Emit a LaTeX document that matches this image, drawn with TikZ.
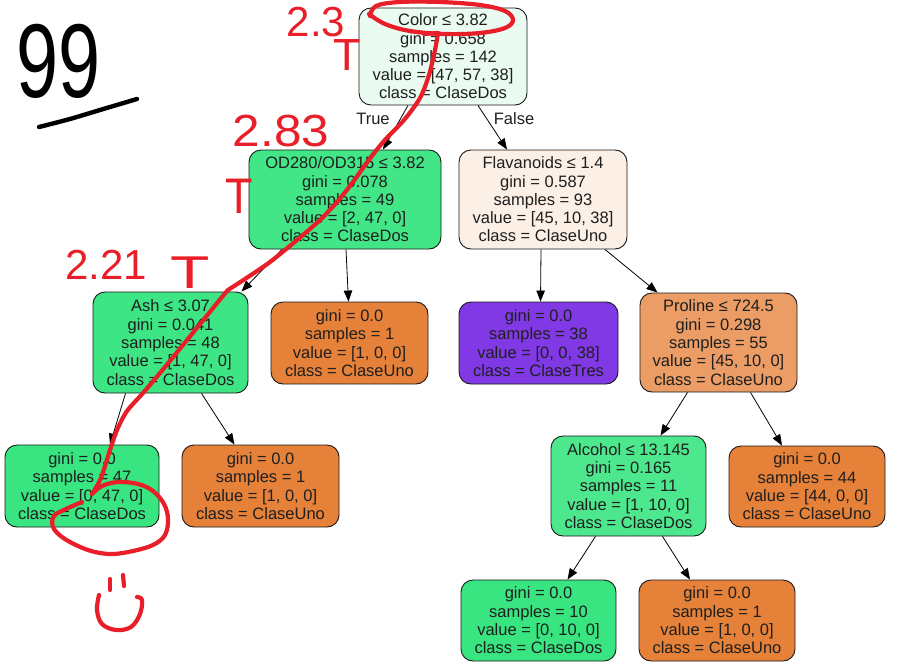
\documentclass[tikz,border=0pt]{standalone}
\usepackage{fontspec}
\setmainfont{Liberation Sans}
\usetikzlibrary{arrows.meta,calc}

% class colours of the fitted tree (purity-weighted)
\definecolor{cRoot}{RGB}{234,252,242}
\definecolor{cOd}{RGB}{66,230,134}
\definecolor{cFlav}{RGB}{252,239,230}
\definecolor{cAsh}{RGB}{61,229,132}
\definecolor{cPro}{RGB}{235,157,101}
\definecolor{cAlc}{RGB}{77,232,142}
\definecolor{cDos}{RGB}{57,229,129}
\definecolor{cUno}{RGB}{229,129,57}
\definecolor{cTres}{RGB}{129,57,229}
\definecolor{annored}{RGB}{232,30,40}

\begin{document}
\begin{tikzpicture}[x=1pt,y=-1pt,
  treenode/.style={draw=black!90, line width=0.9pt, rounded corners=12pt,
    align=center, inner sep=0pt, text=black!88,
    font=\fontsize{16.5}{18.3}\selectfont},
  edge/.style={draw=black, line width=0.8pt,
    -{Triangle[length=11pt,width=8.5pt]}},
  edgelabel/.style={inner sep=0pt, text=black!88, font=\fontsize{16.5}{18.3}\selectfont},
  pen/.style={draw=annored, line width=4.2pt, line cap=round, line join=round},
  blackpen/.style={draw=black, line width=4.4pt, line cap=round, line join=round},
  hand/.style={text=annored, inner sep=0pt}
]
\useasboundingbox (0,0) rectangle (912,669);
\fill[white] (0,0) rectangle (912,669);

% ---- tree nodes ----
\node[treenode, fill=cRoot, minimum width=168pt, minimum height=97pt] (root) at (443,56.5)
  {Color ≤ 3.82\\gini = 0.658\\samples = 142\\value = [47, 57, 38]\\class = ClaseDos};
\node[treenode, fill=cOd, minimum width=192pt, minimum height=99pt] (od) at (345,199.5)
  {OD280/OD315 ≤ 3.82\\gini = 0.078\\samples = 49\\value = [2, 47, 0]\\class = ClaseDos};
\node[treenode, fill=cFlav, minimum width=168pt, minimum height=99pt] (flav) at (543,199.5)
  {Flavanoids ≤ 1.4\\gini = 0.587\\samples = 93\\value = [45, 10, 38]\\class = ClaseUno};
\node[treenode, fill=cAsh, minimum width=155pt, minimum height=101pt] (ash) at (170.5,342.5)
  {Ash ≤ 3.07\\gini = 0.041\\samples = 48\\value = [1, 47, 0]\\class = ClaseDos};
\node[treenode, fill=cUno, minimum width=157pt, minimum height=82pt] (odleaf) at (349.5,343)
  {gini = 0.0\\samples = 1\\value = [1, 0, 0]\\class = ClaseUno};
\node[treenode, fill=cTres, minimum width=159pt, minimum height=82pt] (tres) at (538.5,343)
  {gini = 0.0\\samples = 38\\value = [0, 0, 38]\\class = ClaseTres};
\node[treenode, fill=cPro, minimum width=157pt, minimum height=99pt] (pro) at (718.5,342.5)
  {Proline ≤ 724.5\\gini = 0.298\\samples = 55\\value = [45, 10, 0]\\class = ClaseUno};
\node[treenode, fill=cDos, minimum width=154pt, minimum height=82pt] (ashl) at (82,486)
  {gini = 0.0\\samples = 47\\value = [0, 47, 0]\\class = ClaseDos};
\node[treenode, fill=cUno, minimum width=157pt, minimum height=82pt] (ashr) at (260.5,486)
  {gini = 0.0\\samples = 1\\value = [1, 0, 0]\\class = ClaseUno};
\node[treenode, fill=cAlc, minimum width=155pt, minimum height=100pt] (alc) at (628.5,486)
  {Alcohol ≤ 13.145\\gini = 0.165\\samples = 11\\value = [1, 10, 0]\\class = ClaseDos};
\node[treenode, fill=cUno, minimum width=156pt, minimum height=81pt] (pror) at (807,486.5)
  {gini = 0.0\\samples = 44\\value = [44, 0, 0]\\class = ClaseUno};
\node[treenode, fill=cDos, minimum width=155pt, minimum height=81pt] (alcl) at (538.5,620.5)
  {gini = 0.0\\samples = 10\\value = [0, 10, 0]\\class = ClaseDos};
\node[treenode, fill=cUno, minimum width=156pt, minimum height=81pt] (alcr) at (717,620.5)
  {gini = 0.0\\samples = 1\\value = [1, 0, 0]\\class = ClaseUno};

% ---- edges ----
\draw[edge] ([xshift=-35pt]root.south) -- ([xshift=38pt]od.north);
\draw[edge] ([xshift=35pt]root.south) -- ([xshift=-36pt]flav.north);
\draw[edge] ([xshift=1pt]od.south) -- ([xshift=-1pt]odleaf.north);
\draw[edge] ([xshift=-63pt]od.south) -- ([xshift=71pt]ash.north);
\draw[edge] ([xshift=-45pt]ash.south) -- ([xshift=28pt]ashl.north);
\draw[edge] ([xshift=31pt]ash.south) -- ([xshift=-26pt]ashr.north);
\draw[edge] ([xshift=-2pt]flav.south) -- ([xshift=2pt]tres.north);
\draw[edge] ([xshift=62pt]flav.south) -- ([xshift=-61pt]pro.north);
\draw[edge] ([xshift=-31pt]pro.south) -- ([xshift=32pt]alc.north);
\draw[edge] ([xshift=32pt]pro.south) -- ([xshift=-25pt]pror.north);
\draw[edge] ([xshift=-33pt]alc.south) -- ([xshift=29pt]alcl.north);
\draw[edge] ([xshift=34pt]alc.south) -- ([xshift=-27pt]alcr.north);

\node[edgelabel] (truelbl) at (373,119) {True};
\node[edgelabel] (falselbl) at (514,119) {False};

% ---- hand-written notes ----
\node[text=black, inner sep=0pt, font=\fontsize{105}{105}\selectfont, xscale=0.72] (score) at (59,61) {99};
\draw[blackpen] plot[smooth, tension=0.5] coordinates {(39,127) (70,119) (100,110) (137,99)};

\node[hand, font=\fontsize{42}{42}\selectfont] (n23) at (316,22) {2.3};
\node[hand, font=\fontsize{45}{45}\selectfont] (t1) at (347,55) {T};
\node[hand, font=\fontsize{45}{45}\selectfont, xscale=1.1] (n283) at (281,131) {2.83};
\node[hand, font=\fontsize{50}{50}\selectfont, xscale=0.9] (t2) at (239,196) {T};
\node[hand, font=\fontsize{42}{42}\selectfont] (n221) at (106,265) {2.21};
\node[hand, font=\fontsize{46}{46}\selectfont, xscale=1.4] (t3) at (190,273) {T};

% loop round the root split
\draw[pen] plot[smooth, tension=0.6] coordinates {(370,16) (376,6) (400,2) (440,2) (480,5) (505,11) (513,20) (505,28) (480,33) (445,34) (410,31) (385,24) (369,14)};
% path down the true branches
\draw[pen] (424,34) -- (438,33);
\draw[pen] plot[smooth, tension=0.5] coordinates {(438,33) (435,50) (429,75) (420,98) (404,120) (384,141) (368,161) (353,182) (337,202) (320,220) (297,240) (270,262) (248,277) (228,290)};
\draw[pen] plot[smooth, tension=0.5] coordinates {(228,290) (222,297) (205,318) (187,340) (165,367) (143,393) (127,411) (117,430) (110,450) (101,478) (92,494)};
% loop round the leaf class
\draw[pen] plot[smooth, tension=0.6] coordinates {(92,494) (102,486) (118,482) (138,484) (153,491) (164,504) (168,519) (165,535) (153,545) (133,551) (113,554) (95,552) (78,546) (62,537) (53,527) (54,516) (66,509) (82,502)};
% little face
\draw[pen] (110,579) -- (110,590);
\draw[pen] (123,575) -- (124,586);
\draw[pen] plot[smooth, tension=0.6] coordinates {(99,595) (97,610) (102,624) (116,630) (131,627) (140,614) (142,600) (137,597)};
\end{tikzpicture}
\end{document}
